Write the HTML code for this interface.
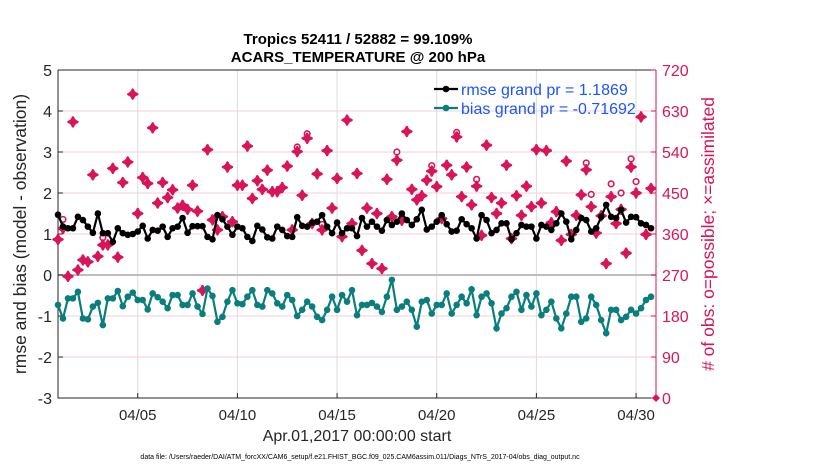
<!DOCTYPE html>
<html><head><meta charset="utf-8"><style>
body{margin:0;background:#fff;}
svg text{font-family:"Liberation Sans",Arial,sans-serif;}
</style></head><body>
<svg id="chart" width="830" height="470" viewBox="0 0 830 470" xmlns="http://www.w3.org/2000/svg">
<rect width="830" height="470" fill="#fff"/>
<g id="grid"></g>
<g id="axes"></g>
<g id="series"></g>
<g id="labels"></g>
</svg>
<script>
const rmse=[1.47,1.18,1.14,1.14,1.42,1.34,1.18,1.03,1.50,1.02,1.02,0.81,1.14,1.02,0.98,1.00,1.06,1.20,0.89,1.10,1.08,1.18,0.93,1.14,1.18,1.39,1.03,1.19,1.19,1.19,
0.93,0.87,1.46,1.36,1.18,0.98,1.18,1.14,0.93,0.83,1.20,1.11,0.92,0.89,1.18,1.10,0.95,0.93,1.41,1.20,1.18,1.28,1.30,1.46,1.18,1.02,1.28,1.02,1.14,1.14,
0.95,1.39,1.18,1.30,1.18,1.08,1.34,1.22,1.30,1.50,1.34,1.22,1.36,1.59,1.11,1.18,1.30,1.46,1.24,1.06,1.08,1.36,1.24,1.14,0.89,1.46,1.34,1.02,1.10,1.26,
1.26,0.87,1.02,1.22,1.18,1.18,0.89,1.22,1.18,1.10,1.26,1.50,1.30,0.87,1.10,1.39,1.34,1.06,1.14,1.42,1.71,1.42,1.39,1.59,1.28,1.42,1.41,1.26,1.22,1.14];
const bias=[-0.73,-1.06,-0.57,-0.57,-0.41,-1.06,-1.08,-0.77,-0.68,-1.22,-0.57,-0.57,-0.39,-0.76,-0.53,-0.43,-0.61,-0.61,-0.84,-0.45,-0.54,-0.65,-0.81,-0.49,-0.49,-0.73,-0.73,-0.45,-0.77,-0.95,
-0.33,-0.51,-1.14,-1.02,-0.65,-0.37,-0.69,-0.71,-0.53,-0.37,-0.73,-0.77,-0.37,-0.45,-0.69,-0.77,-0.49,-0.61,-1.00,-0.85,-0.65,-0.77,-1.02,-1.10,-0.85,-0.53,-0.85,-0.49,-0.65,-0.37,
-0.98,-0.73,-0.73,-0.68,-0.77,-0.90,-0.53,-0.12,-0.85,-0.77,-0.65,-0.85,-1.26,-0.65,-0.61,-0.94,-0.73,-0.73,-0.45,-0.94,-0.73,-0.53,-0.69,-0.35,-0.98,-0.53,-0.45,-0.69,-1.30,-0.94,
-0.81,-0.53,-0.41,-0.85,-0.49,-0.77,-0.45,-0.98,-0.85,-0.65,-1.06,-1.30,-0.94,-0.53,-0.53,-1.14,-1.06,-0.53,-0.73,-1.10,-1.42,-0.85,-0.85,-1.10,-1.02,-0.85,-0.94,-0.81,-0.61,-0.53];
const assimilated=[348,372,267,606,281,303,299,490,311,336,336,504,309,473,518,667,405,484,471,593,428,473,440,457,417,423,414,467,410,236,
545,391,369,398,507,387,467,467,553,438,477,458,500,453,453,462,509,369,541,445,570,383,492,369,543,417,482,354,610,
383,493,324,417,295,405,284,480,398,522,390,585,458,435,444,478,498,464,394,511,490,573,442,507,424,465,357,555,440,405,
428,511,350,444,401,465,420,545,428,543,385,409,346,520,359,401,446,501,420,362,400,295,442,383,414,318,507,450,617,359,460];
const possible=[348,392,267,606,281,303,299,490,311,352,336,504,309,473,518,667,405,484,471,593,428,473,440,457,417,423,414,467,410,236,
545,391,369,398,507,387,467,467,553,438,477,458,500,453,453,462,509,369,551,445,580,383,492,381,543,417,482,354,610,
383,493,324,417,295,405,284,480,398,540,390,585,458,435,444,478,510,464,394,511,490,583,442,507,424,480,357,555,440,405,
428,511,350,444,401,465,420,545,428,543,385,409,346,520,359,401,446,516,447,362,400,295,470,383,450,318,525,475,617,359,460];
const leftTicks=[-3,-2,-1,0,1,2,3,4,5];
const rightTicks=[0,90,180,270,360,450,540,630,720];
const dayTicks=[4,9,14,19,24,29];
const dayTickLabels=["04/05","04/10","04/15","04/20","04/25","04/30"];
const stepDays=0.25;

const NS="http://www.w3.org/2000/svg";
const L=58,R=656,T=70,B=398,nDays=30;
const xs=d=>L+(R-L)*d/nDays;
const yl=v=>B-(B-T)*(v+3)/8;
const yr=c=>B-(B-T)*c/720;
function mk(tag,attrs,parent,txt){const e=document.createElementNS(NS,tag);for(const k in attrs)e.setAttribute(k,attrs[k]);if(txt!==undefined)e.textContent=txt;parent.appendChild(e);return e;}
const grid=document.getElementById('grid'),axes=document.getElementById('axes'),series=document.getElementById('series'),labels=document.getElementById('labels');
const CR="#d9145a",TE="#0a7d7d";
dayTicks.forEach(d=>{const g=mk('line',{x1:xs(d),x2:xs(d),y1:T,y2:B,stroke:'#dcdcdc','stroke-width':1},grid);

});
rightTicks.forEach(c=>{if(c===0||c===720)return;const g=mk('line',{x1:L,x2:R,y1:yr(c),y2:yr(c),stroke:'#f3cfdc','stroke-width':1},grid);

});
const z=mk('line',{x1:L,x2:R,y1:yl(0),y2:yl(0),stroke:'#bdbdbd','stroke-width':2},grid);


const ax=mk('path',{d:`M${L},${T}V${B}H${R}M${L},${T}H${R}`,stroke:'#262626','stroke-width':1,fill:'none'},axes);


const rax=mk('line',{x1:R,x2:R,y1:T,y2:B,stroke:CR,'stroke-width':1},axes);


leftTicks.forEach(v=>{mk('line',{x1:L,x2:L+5,y1:yl(v),y2:yl(v),stroke:'#262626'},axes);
const t=mk('text',{x:L-6,y:yl(v)+6,'text-anchor':'end','font-size':16,fill:'#262626'},labels,String(v));

});
rightTicks.forEach(c=>{mk('line',{x1:R-5,x2:R,y1:yr(c),y2:yr(c),stroke:CR},axes);
const t=mk('text',{x:R+6,y:yr(c)+6,'font-size':16,fill:CR},labels,String(c));

});
dayTicks.forEach((d,i)=>{mk('line',{x1:xs(d),x2:xs(d),y1:B,y2:B-5,stroke:'#262626'},axes);
const t=mk('text',{x:xs(d),y:B+22,'text-anchor':'middle','font-size':15,fill:'#262626'},labels,dayTickLabels[i]);

});
const om=mk('path',{d:`M${R},${B-4}L${R+4},${B}L${R},${B+4}L${R-4},${B}Z`,fill:CR},axes);


function star(x,y){return `M${x},${y-4.5}L${x+1.5},${y-1.5}L${x+4.5},${y}L${x+1.5},${y+1.5}L${x},${y+4.5}L${x-1.5},${y+1.5}L${x-4.5},${y}L${x-1.5},${y-1.5}Z`;}
possible.forEach((c,i)=>{const p=mk('circle',{cx:xs(i*stepDays),cy:yr(c),r:2.8,fill:'#fff',stroke:CR,'stroke-width':1.6},series);

});
assimilated.forEach((c,i)=>{const p=mk('path',{d:star(xs(i*stepDays),yr(c)),fill:CR,stroke:CR,'stroke-width':2.4,'stroke-linejoin':'round'},series);

});
function line(vals,col,name){const d=vals.map((v,i)=>(i?'L':'M')+xs(i*stepDays).toFixed(1)+','+yl(v).toFixed(1)).join('');
const pl=mk('path',{d:d,fill:'none',stroke:col,'stroke-width':2.2},series);


vals.forEach((v,i)=>{const c=mk('circle',{cx:xs(i*stepDays),cy:yl(v),r:3.3,fill:col},series);

});}
line(bias,TE,'bias');
line(rmse,'#000','rmse');
[['#000','rmse grand pr = 1.1869',89],[TE,'bias grand pr = -0.71692',108]].forEach((e,i)=>{
const g=mk('g',{},labels);


mk('line',{x1:434,x2:458,y1:e[2],y2:e[2],stroke:e[0],'stroke-width':2.2},g);
mk('circle',{cx:446,cy:e[2],r:3.3,fill:e[0]},g);
mk('text',{x:461,y:e[2]+6,'font-size':16,fill:'#1a55ff'},g,e[1]);});
</script>
<svg style="position:absolute;left:0;top:0" width="830" height="470">
<text x="358" y="44" text-anchor="middle" font-size="15" font-weight="bold" font-family="Liberation Sans, sans-serif">Tropics 52411 / 52882 = 99.109%</text>
<text x="358" y="62" text-anchor="middle" font-size="15" font-weight="bold" font-family="Liberation Sans, sans-serif">ACARS_TEMPERATURE @ 200 hPa</text>
<text transform="translate(26,234) rotate(-90)" text-anchor="middle" font-size="17.5" fill="#262626" font-family="Liberation Sans, sans-serif">rmse and bias (model - observation)</text>
<text transform="translate(714,234) rotate(-90)" text-anchor="middle" font-size="17.5" fill="#d9145a" font-family="Liberation Sans, sans-serif"># of obs: o=possible; ×=assimilated</text>
<text x="357" y="441" text-anchor="middle" font-size="16" fill="#262626" font-family="Liberation Sans, sans-serif">Apr.01,2017 00:00:00 start</text>
<text x="360" y="459" text-anchor="middle" font-size="7" fill="#000" font-family="Liberation Sans, sans-serif">data file: /Users/raeder/DAI/ATM_forcXX/CAM6_setup/f.e21.FHIST_BGC.f09_025.CAM6assim.011/Diags_NTrS_2017-04/obs_diag_output.nc</text>
</svg>
</body></html>
